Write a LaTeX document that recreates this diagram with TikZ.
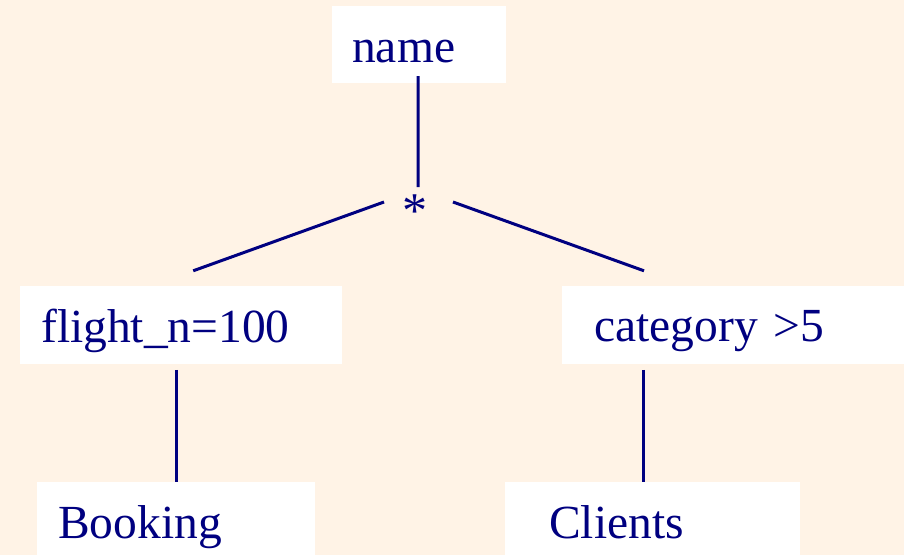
\documentclass[tikz,border=0pt]{standalone}
\usepackage{fontspec}
\setmainfont{Liberation Serif}
\usetikzlibrary{calc}
\definecolor{paper}{RGB}{255,243,230}
\definecolor{ink}{RGB}{0,0,128}
\tikzset{
  box/.style={fill=white, draw=none, text=ink, anchor=base west, align=left,
    inner ysep=0pt, font=\fontsize{47.5}{57}\selectfont},
  link/.style={draw=ink, line width=3pt},
}
\begin{document}
\begin{tikzpicture}[x=1pt, y=-1pt]
  \useasboundingbox (0,0) rectangle (904,555);
  \fill[paper] (0,0) rectangle (904,555);

  % operator tree: projection, join, selections, relations
  \node[box, inner xsep=20pt, text width=134pt, text height=56pt, text depth=21pt]
    (name) at (332,62) {name};
  \node[text=ink, anchor=base, inner sep=0pt, font=\fontsize{50}{60}\selectfont]
    (star) at (415,227) {*};
  \node[box, inner xsep=21pt, text width=280pt, text height=56pt, text depth=22pt]
    (flight) at (20,342) {flight\_n=100};
  \node[box, inner xsep=32pt, text width=294pt, text height=55pt, text depth=23pt]
    (cat) at (562,341) {category >5};
  \node[box, inner xsep=21pt, text width=236pt, text height=56pt, text depth=40pt]
    (booking) at (37,538) {Booking};
  \node[box, inner xsep=44pt, text width=207pt, text height=56pt, text depth=40pt]
    (clients) at (505,538) {Clients};

  % edges of the tree
  \draw[link] ($(name.south)+(-1pt,7pt)$) -- ($(star.base)+(3pt,40pt)$);
  \draw[link] ($(star.base)+(-31pt,25pt)$) -- ($(flight.north)+(12pt,15pt)$);
  \draw[link] ($(star.base)+(38pt,25pt)$) -- ($(cat.north west)+(82pt,15pt)$);
  \draw[link] ($(booking.north)+(0pt,112pt)$) -- (booking.north);
  \draw[link] ($(clients.north)+(-8.8pt,112pt)$) -- ($(clients.north)+(-8.8pt,0pt)$);
\end{tikzpicture}
\end{document}
